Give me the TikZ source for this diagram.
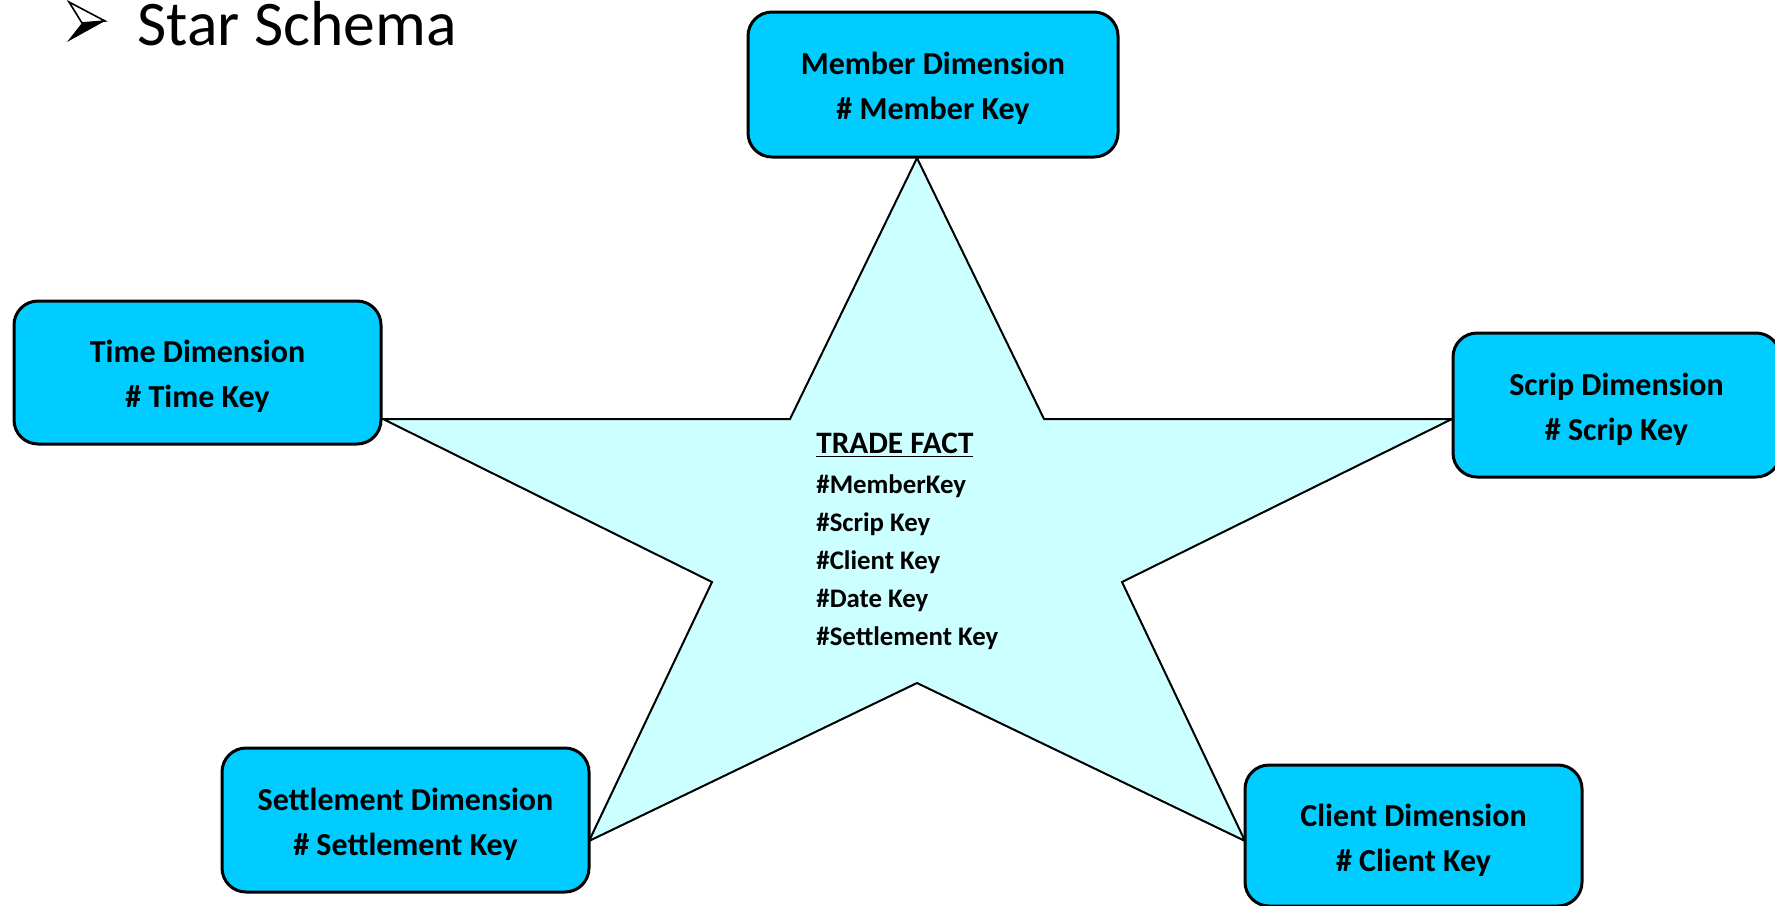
\documentclass[tikz,border=0pt]{standalone}
\usepackage{fontspec}
\setmainfont{Carlito}
\definecolor{dimfill}{HTML}{00CCFF}
\definecolor{starfill}{HTML}{CCFFFF}
\newcommand{\dimtext}[2]{\rule{0pt}{15.5pt}#1\\#2}
\begin{document}
\begin{tikzpicture}[x=0.5pt,y=-0.5pt,
  dimbox/.style={draw=black, line width=1.5pt, fill=dimfill, rounded corners=12pt,
    align=center, inner sep=0pt, font=\bfseries\fontsize{16}{22.5}\selectfont},
  starshape/.style={draw=black, line width=1pt, fill=starfill, line join=miter}]
\useasboundingbox (0,0) rectangle (1775,905);
\begin{scope}
\clip (0,0) rectangle (1775,905);
% title arrow bullet
\draw[line width=0.8pt, fill=white, line join=miter] (69,2) -- (105,21) -- (82,23) -- cycle;
\fill[black] (67,42) -- (105,21) -- (82,23) -- cycle;
\node[anchor=base west, inner sep=0pt, font=\fontsize{31.8}{31.8}\selectfont] (title) at (137,45) {Star Schema};
% star
\draw[starshape] (917,158) -- (790,419) -- (383,419) -- (712,582) -- (589,841) -- (917,683) -- (1245,841) -- (1122,582) -- (1452,419) -- (1044,419) -- cycle;
% fact text
\node[anchor=north west, inner sep=0pt, align=left, font=\bfseries\fontsize{13.4}{19}\selectfont] (fact) at (816,433)
  {{\fontsize{15.6}{19}\selectfont\underline{TRADE FACT}}\\[1pt]
   \#MemberKey\\ \#Scrip Key\\ \#Client Key\\ \#Date Key\\ \#Settlement Key};
% dimension boxes
\node[dimbox, minimum width=185pt, minimum height=72.5pt] (member) at (933,84.5) {\dimtext{Member Dimension}{\# Member Key}};
\node[dimbox, minimum width=183.5pt, minimum height=71.5pt] (time) at (197.5,372.5) {\dimtext{Time Dimension}{\# Time Key}};
\node[dimbox, minimum width=163.5pt, minimum height=72pt] (scrip) at (1616.5,405) {\dimtext{Scrip Dimension}{\# Scrip Key}};
\node[dimbox, minimum width=183.5pt, minimum height=72pt] (settle) at (405.5,820) {\dimtext{Settlement Dimension}{\# Settlement Key}};
\node[dimbox, minimum width=168.5pt, minimum height=70.5pt] (client) at (1413.5,835.5) {\dimtext{Client Dimension}{\# Client Key}};
\end{scope}
\end{tikzpicture}
\end{document}
